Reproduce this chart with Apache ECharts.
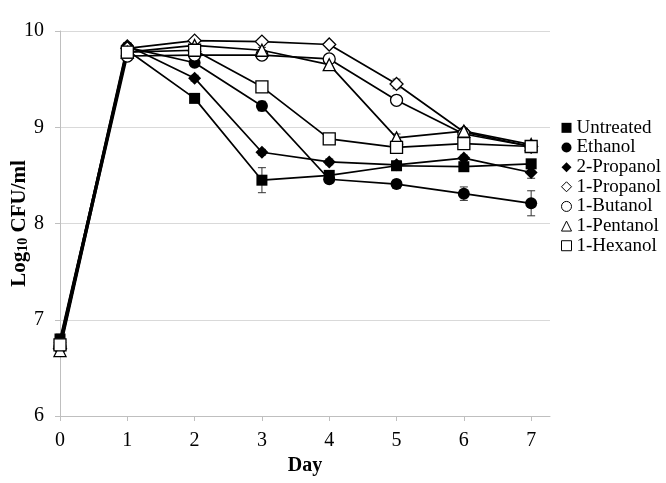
<!DOCTYPE html>
<html>
<head>
<meta charset="utf-8">
<script src="https://cdn.jsdelivr.net/npm/echarts@6/dist/echarts.min.js"></script>
<style>html,body{margin:0;padding:0;background:#fff}#c{width:666px;height:483px}</style>
</head>
<body>
<div id="c"></div>
<script>
var days = [0, 1, 2, 3, 4, 5, 6, 7];
var xTicks = [0, 1, 2, 3, 4, 5, 6, 7];
var yTicks = [6, 7, 8, 9, 10];
var seriesNames = ['Untreated', 'Ethanol', '2-Propanol', '1-Propanol', '1-Butanol', '1-Pentanol', '1-Hexanol'];
var untreated  = [6.80, 9.80, 9.30, 8.45, 8.50, 8.60, 8.59, 8.62];
var ethanol    = [6.78, 9.83, 9.67, 9.22, 8.46, 8.41, 8.31, 8.21];
var propanol2  = [6.76, 9.85, 9.51, 8.74, 8.64, 8.61, 8.68, 8.53];
var propanol1  = [6.70, 9.82, 9.90, 9.89, 9.86, 9.45, 8.95, 8.80];
var butanol1   = [6.72, 9.74, 9.75, 9.75, 9.71, 9.28, 8.93, 8.80];
var pentanol1  = [6.68, 9.78, 9.85, 9.80, 9.65, 8.89, 8.96, 8.82];
var hexanol1   = [6.74, 9.78, 9.80, 9.42, 8.88, 8.79, 8.83, 8.80];
var errUntreated = [0.05, 0.03, 0.03, 0.13, 0.03, 0.03, 0.03, 0.03];
var errEthanol   = [0.05, 0.03, 0.03, 0.05, 0.03, 0.04, 0.07, 0.13];
var errPropanol2 = [0.05, 0.03, 0.03, 0.03, 0.03, 0.03, 0.03, 0.06];
var errPropanol1 = [0.05, 0.03, 0.02, 0.03, 0.02, 0.05, 0.03, 0.04];
var errButanol1  = [0.05, 0.03, 0.02, 0.02, 0.02, 0.03, 0.03, 0.04];
var errPentanol1 = [0.05, 0.03, 0.02, 0.03, 0.03, 0.04, 0.03, 0.04];
var errHexanol1  = [0.06, 0.03, 0.02, 0.03, 0.03, 0.03, 0.03, 0.04];

var values = [untreated, ethanol, propanol2, propanol1, butanol1, pentanol1, hexanol1];
var errors = [errUntreated, errEthanol, errPropanol2, errPropanol1, errButanol1, errPentanol1, errHexanol1];
var symbols = ['rect', 'circle', 'diamond', 'diamond', 'circle', 'triangle', 'rect'];
var sizes = [11, 12, 13, 13, 12, 12, 12];
var filled = [true, true, true, false, false, false, false];
var legendIcons = ['rect', 'circle', 'diamond', 'diamond', 'circle', 'triangle', 'rect'];

var FONT = '"Liberation Serif", "Times New Roman", serif';
var series = [];
values.forEach(function (vals, i) {
  var errData = days.map(function (d, k) { return [d, vals[k], errors[i][k]]; });
  series.push({
    type: 'custom',
    name: seriesNames[i] + ' err',
    data: errData,
    z: 1,
    silent: true,
    renderItem: function (params, api) {
      var x = api.value(0), y = api.value(1), e = api.value(2);
      var hi = api.coord([x, y + e]);
      var lo = api.coord([x, y - e]);
      var w = 4;
      var st = { stroke: '#333', lineWidth: 1 };
      return {
        type: 'group',
        children: [
          { type: 'line', shape: { x1: hi[0], y1: hi[1], x2: lo[0], y2: lo[1] }, style: st },
          { type: 'line', shape: { x1: hi[0] - w, y1: hi[1], x2: hi[0] + w, y2: hi[1] }, style: st },
          { type: 'line', shape: { x1: lo[0] - w, y1: lo[1], x2: lo[0] + w, y2: lo[1] }, style: st }
        ]
      };
    }
  });
  series.push({
    type: 'line',
    name: seriesNames[i],
    data: days.map(function (d, k) { return [d, vals[k]]; }),
    symbol: symbols[i],
    symbolSize: sizes[i],
    showAllSymbol: true,
    z: 3,
    lineStyle: { color: '#000', width: 1.7 },
    itemStyle: {
      color: filled[i] ? '#000' : '#fff',
      borderColor: '#000',
      borderWidth: filled[i] ? 0 : 1.3,
      opacity: 1
    },
    emphasis: { disabled: true },
    animation: false
  });
});

var chart = echarts.init(document.getElementById('c'), null, { renderer: 'canvas' });
chart.setOption({
  animation: false,
  backgroundColor: '#fff',
  grid: { left: 60, right: 116, top: 31, bottom: 67, containLabel: false, outerBoundsMode: 'none' },
  legend: {
    orient: 'vertical',
    left: 556,
    top: 113,
    itemWidth: 10,
    itemHeight: 10,
    itemGap: 0,
    selectedMode: false,
    textStyle: { fontFamily: FONT, fontSize: 19, color: '#000', lineHeight: 19.65, padding: [0, 0, 0, 0] },
    data: seriesNames.map(function (n, i) {
      return {
        name: n,
        icon: legendIcons[i],
        itemStyle: {
          color: filled[i] ? '#000' : '#fff',
          borderColor: '#000',
          borderWidth: filled[i] ? 0 : 1
        }
      };
    })
  },
  xAxis: {
    type: 'value',
    min: 0,
    max: 7.28,
    name: 'Day',
    nameLocation: 'middle',
    nameGap: 40,
    nameMoveOverlap: false,
    nameTextStyle: { fontFamily: FONT, fontSize: 20, fontWeight: 'bold', color: '#000' },
    axisLine: { show: true, lineStyle: { color: '#bfbfbf', width: 1 } },
    axisTick: { show: true, length: 5, lineStyle: { color: '#bfbfbf' }, customValues: xTicks },
    axisLabel: { fontFamily: FONT, fontSize: 20, color: '#000', margin: 15, customValues: xTicks },
    splitLine: { show: false }
  },
  yAxis: {
    type: 'value',
    min: 6,
    max: 10,
    interval: 1,
    name: '{a|Log}{b|10}{a| CFU/ml}',
    nameLocation: 'middle',
    nameGap: 30,
    nameMoveOverlap: false,
    nameRotate: 90,
    nameTextStyle: {
      rich: {
        a: { fontFamily: FONT, fontSize: 21, fontWeight: 'bold', color: '#000', lineHeight: 26, verticalAlign: 'bottom' },
        b: { fontFamily: FONT, fontSize: 14, fontWeight: 'bold', color: '#000', lineHeight: 20, verticalAlign: 'bottom' }
      }
    },
    axisLine: { show: true, lineStyle: { color: '#bfbfbf', width: 1 } },
    axisTick: { show: true, length: 5, lineStyle: { color: '#bfbfbf' } },
    axisLabel: { fontFamily: FONT, fontSize: 20, color: '#000', margin: 16 },
    splitLine: { show: true, lineStyle: { color: '#d9d9d9', width: 1 } }
  },
  series: series
});
</script>
</body>
</html>
